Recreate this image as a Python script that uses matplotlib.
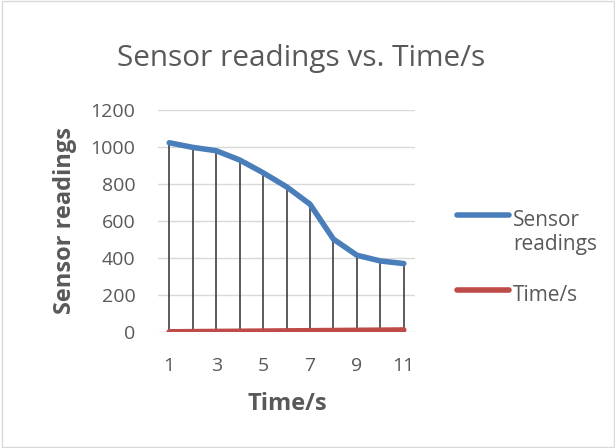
import matplotlib
matplotlib.use("Agg")
import matplotlib.pyplot as plt
from matplotlib.patches import Rectangle
from matplotlib.lines import Line2D

time_s = [1, 2, 3, 4, 5, 6, 7, 8, 9, 10, 11]
sensor_readings = [1023, 998, 980, 930, 861, 785, 691, 502, 415, 384, 370]
time_values = [1, 2, 3, 4, 5, 6, 7, 8, 9, 10, 11]
x_tick_labels = ["1", "3", "5", "7", "9", "11"]
y_ticks = [0, 200, 400, 600, 800, 1000, 1200]
series_names = ["Sensor\nreadings", "Time/s"]

plt.rcParams['font.family'] = ['Open Sans', 'DejaVu Sans']
W, H = 615, 448
fig = plt.figure(figsize=(W / 100, H / 100), dpi=100)
fig.patch.set_facecolor('white')
fig.patches.append(Rectangle((1.5 / W, 1.5 / H), 1 - 3 / W, 1 - 3 / H, transform=fig.transFigure,
                             fill=False, edgecolor='#d9d9d9', linewidth=1))

def fx(px):
    return px / W

def fy(py):
    return 1 - py / H

left, right, top, bottom = 157.5, 415.5, 110, 332
ax = fig.add_axes([fx(left), fy(bottom), (right - left) / W, (bottom - top) / H])
ax.set_xlim(0.5, 11.5)
ax.set_ylim(0, 1200)
for s in ax.spines.values():
    s.set_visible(False)
ax.set_yticks(y_ticks)
ax.grid(axis='y', color='#d9d9d9', linewidth=1)
ax.set_axisbelow(True)
ax.tick_params(axis='both', length=0, labelsize=14, colors='#595959')
ax.tick_params(axis='y', pad=16)
ax.tick_params(axis='x', pad=18)
ax.set_xticks([1, 3, 5, 7, 9, 11])
ax.set_xticklabels(x_tick_labels)

# drop lines
for x, y1, y2 in zip(time_s, sensor_readings, time_values):
    ax.plot([x, x], [0, max(y1, y2)], color='#404040', linewidth=1.2, zorder=2)

l1, = ax.plot(time_s, sensor_readings, color='#4a7ebb', linewidth=4, solid_capstyle='round',
              solid_joinstyle='round', zorder=3)
l2, = ax.plot(time_s, time_values, color='#be4b48', linewidth=4, solid_capstyle='round',
              solid_joinstyle='round', zorder=3)

fig.text(fx(65), fy(221), 'Sensor readings', rotation=90, fontsize=17, fontweight='bold',
         color='#595959', ha='center', va='center')
fig.text(fx(287), fy(404), 'Time/s', fontsize=17, fontweight='bold', color='#595959',
         ha='center', va='center')

fig.text(fx(301), fy(66), 'Sensor readings vs. Time/s', fontsize=21.4, color='#595959',
         ha='center', va='baseline')

# legend (drawn manually so the handle aligns with the first text line)
for line, name, ly in [(l1, series_names[0], 215.5), (l2, series_names[1], 290)]:
    fig.add_artist(Line2D([fx(457), fx(509)], [fy(ly), fy(ly)], transform=fig.transFigure,
                          color=line.get_color(), linewidth=4, solid_capstyle='round'))
    for i, part in enumerate(name.split('\n')):
        fig.text(fx(513), fy(ly + 11 + 23.3 * i), part, fontsize=15, color='#595959',
                 ha='left', va='baseline')

fig.savefig('out.png', dpi=100)
